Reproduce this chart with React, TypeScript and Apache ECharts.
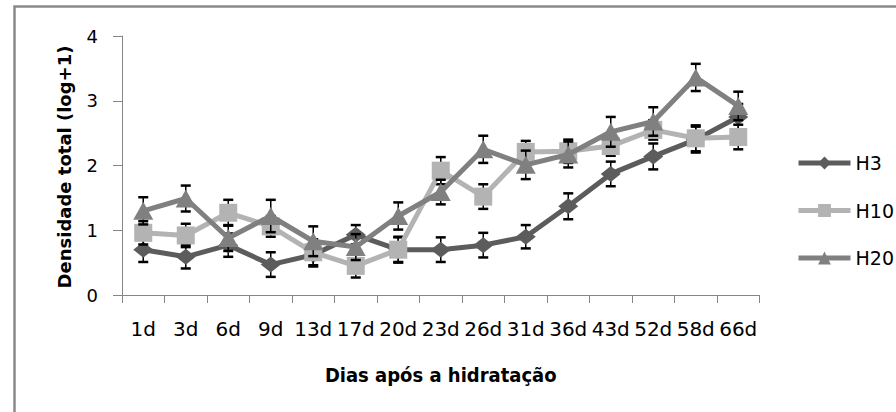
import React, { useEffect, useRef } from "react";
import * as echarts from "echarts";

const categories = ["1d", "3d", "6d", "9d", "13d", "17d", "20d", "23d", "26d", "31d", "36d", "43d", "52d", "58d", "66d"];
const h3 = [0.70, 0.59, 0.77, 0.47, 0.62, 0.93, 0.70, 0.70, 0.77, 0.90, 1.37, 1.87, 2.14, 2.40, 2.75];
const h3Err = [0.19, 0.18, 0.18, 0.19, 0.18, 0.15, 0.19, 0.19, 0.19, 0.18, 0.20, 0.19, 0.20, 0.20, 0.20];
const h10 = [0.96, 0.92, 1.27, 1.06, 0.66, 0.45, 0.70, 1.92, 1.52, 2.21, 2.22, 2.30, 2.55, 2.42, 2.44];
const h10Err = [0.18, 0.18, 0.20, 0.16, 0.20, 0.18, 0.20, 0.21, 0.19, 0.17, 0.18, 0.15, 0.15, 0.20, 0.19];
const h20 = [1.30, 1.49, 0.88, 1.22, 0.83, 0.74, 1.22, 1.59, 2.25, 2.01, 2.17, 2.52, 2.68, 3.36, 2.92];
const h20Err = [0.21, 0.20, 0.20, 0.25, 0.23, 0.20, 0.21, 0.19, 0.21, 0.22, 0.20, 0.23, 0.22, 0.21, 0.22];
const yTicks = [0, 1, 2, 3, 4];

const colors = { h3: "#5c5c5c", h10: "#b3b3b3", h20: "#808080" };
const FONT = "'DejaVu Sans', sans-serif";

function errData(vals: number[], errs: number[]) {
  return vals.map((v, i) => [i, v - errs[i], v + errs[i]]);
}

function renderErr(params: any, api: any) {
  const x = api.value(0);
  const lo = api.coord([x, api.value(1)]);
  const hi = api.coord([x, api.value(2)]);
  const cap = 5;
  const st = { stroke: "#000", lineWidth: 1.5 };
  const cs = { stroke: "#000", lineWidth: 2.5 };
  return {
    type: "group",
    children: [
      { type: "line", shape: { x1: lo[0], y1: lo[1], x2: hi[0], y2: hi[1] }, style: st },
      { type: "line", shape: { x1: hi[0] - cap, y1: hi[1], x2: hi[0] + cap, y2: hi[1] }, style: cs },
      { type: "line", shape: { x1: lo[0] - cap, y1: lo[1], x2: lo[0] + cap, y2: lo[1] }, style: cs },
    ],
  };
}

export default function App() {
  const ref = useRef<HTMLDivElement>(null);
  useEffect(() => {
    document.body.style.margin = "0";
    const chart = echarts.init(ref.current!, null, { renderer: "svg" });
    const lineSeries = (name: string, data: number[], color: string, symbol: string, size: any, z: number) => ({
      name,
      type: "line",
      data,
      z,
      symbol,
      symbolSize: size,
      showAllSymbol: true,
      lineStyle: { color, width: 5 },
      itemStyle: { color },
      emphasis: { disabled: true },
    });
    const errSeries = (name: string, vals: number[], errs: number[], z: number) => ({
      name,
      type: "custom",
      data: errData(vals, errs),
      encode: { x: 0, y: [1, 2] },
      renderItem: renderErr,
      z,
      silent: true,
    });
    chart.setOption({
      animation: false,
      backgroundColor: "#fff",
      grid: { left: 122, right: 136.5, top: 36, bottom: 117, containLabel: false },
      legend: {
        data: ["H3", "H10", "H20"],
        orient: "vertical",
        left: 796,
        top: 153,
        padding: 0,
        itemWidth: 52,
        itemHeight: 16,
        itemGap: 27.5,
        lineStyle: { width: 5 },
        textStyle: { fontFamily: FONT, fontSize: 19, color: "#000", lineHeight: 20 },
        selectedMode: false,
      },
      xAxis: {
        type: "category",
        data: categories,
        boundaryGap: true,
        axisLine: { lineStyle: { color: "#868686", width: 1 } },
        axisTick: { show: true, length: 8, lineStyle: { color: "#868686" } },
        axisLabel: { interval: 0, fontFamily: FONT, fontSize: 20, color: "#000", margin: 24 },
        name: "Dias após a hidratação",
        nameLocation: "middle",
        nameGap: 70,
        nameTextStyle: { fontFamily: "'DejaVu Sans Condensed', 'DejaVu Sans', sans-serif", fontWeight: "bold", fontSize: 20, color: "#000" },
        splitLine: { show: false },
      },
      yAxis: {
        type: "value",
        min: yTicks[0],
        max: yTicks[yTicks.length - 1],
        interval: 1,
        axisLine: { show: true, lineStyle: { color: "#868686", width: 1 } },
        axisTick: { show: true, length: 9, lineStyle: { color: "#868686" } },
        axisLabel: { fontFamily: FONT, fontSize: 18, color: "#000", margin: 24 },
        splitLine: { show: false },
      },
      graphic: [
        {
          type: "rect",
          shape: { x: 14.5, y: 6.5, width: 1000, height: 1000 },
          style: { fill: "none", stroke: "#8a8a8a", lineWidth: 2.5 },
          silent: true,
        },
        {
          type: "text",
          x: 64,
          y: 167,
          rotation: Math.PI / 2,
          style: {
            text: "Densidade total (log+1)",
            fontFamily: FONT,
            fontWeight: "bold",
            fontSize: 18,
            fill: "#000",
            align: "center",
            verticalAlign: "middle",
          },
        },
      ],
      series: [
        errSeries("e3", h3, h3Err, 1),
        lineSeries("H3", h3, colors.h3, "diamond", [20, 16], 2),
        errSeries("e10", h10, h10Err, 3),
        lineSeries("H10", h10, colors.h10, "rect", 18, 4),
        errSeries("e20", h20, h20Err, 5),
        lineSeries("H20", h20, colors.h20, "triangle", [20, 18], 6),
      ],
    });
    return () => chart.dispose();
  }, []);
  return <div ref={ref} style={{ position: "absolute", left: 0, top: 0, width: 896, height: 412 }} />;
}
